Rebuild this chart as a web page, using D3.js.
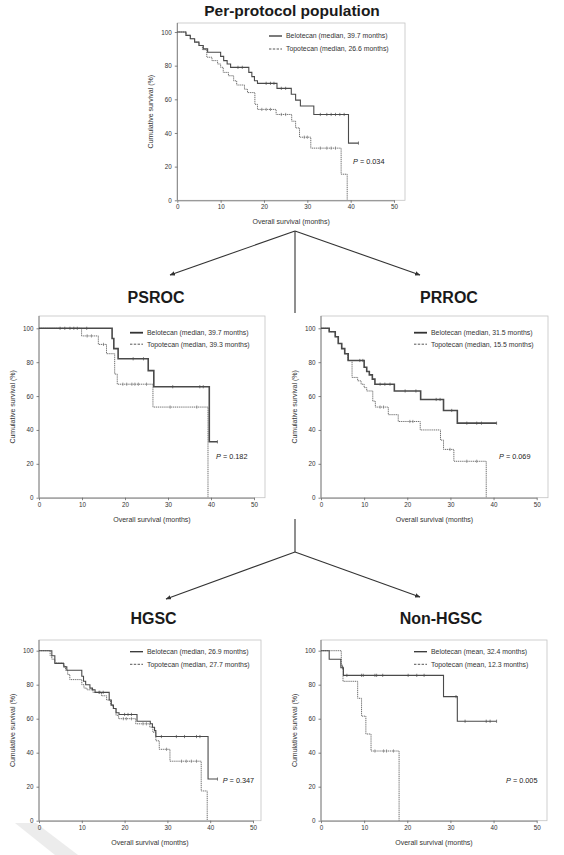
<!DOCTYPE html>
<html>
<head>
<meta charset="utf-8">
<script src="https://cdn.jsdelivr.net/npm/d3@7"></script>
<style>
  body { margin: 0; background: #fff; }
  svg text { font-family: "Liberation Sans", Arial, sans-serif; }
</style>
</head>
<body>
<div id="chart"></div>
<script>
// ---- data (months / % survival) ----
const xTicks = [0, 10, 20, 30, 40, 50];
const yTicks = [0, 20, 40, 60, 80, 100];

// Per-protocol population
const ppBelTimes = [2, 3, 4, 5, 6, 7, 10, 10.7, 11.5, 12.3, 16.5, 17.2, 17.8, 18.5, 23, 26.3, 27.3, 28.4, 31.5, 39.5];
const ppBelSurv  = [98, 96, 94, 92, 90, 88, 85.5, 83, 81, 79, 76, 73.5, 71, 69.5, 66.5, 63, 59.5, 56, 51, 34];
const ppBelEnd = 41.8;
const ppBelCensor = [14, 15, 20.5, 21.5, 22.3, 24, 25, 33, 34.5, 35.5, 36.5, 37.5, 38.5, 41.8];
const ppTopTimes = [2, 3, 4, 5, 5.8, 6.8, 8, 9.3, 10, 10.6, 11.8, 13, 13.7, 15.5, 16.2, 17.9, 18.5, 22.8, 26.4, 27.3, 28.2, 30.8, 37.8, 39.2];
const ppTopSurv  = [98, 96, 94, 92, 89.5, 85, 83, 81, 79, 76, 74, 71, 68.5, 66, 64, 57, 54, 51, 47, 43, 37.5, 31, 15.5, 0];
const ppTopCensor = [19.5, 20.5, 21.5, 24, 25, 29.3, 30, 33, 34.5, 35.5, 36.5];

// PSROC
const psBelTimes = [17, 17.4, 18.4, 25.4, 26.7, 39.6];
const psBelSurv  = [94, 88, 82, 75, 65.5, 33];
const psBelEnd = 41.5;
const psBelCensor = [4.9, 6, 7.2, 8.1, 8.9, 11.1, 21.9, 24.3, 31.1, 37.4, 38.2, 41.5];
const psTopTimes = [9.9, 13.8, 15.7, 17.6, 18.2, 26.5, 39.3];
const psTopSurv  = [95.5, 90.5, 85, 73, 67, 53.5, 0];
const psTopCensor = [11.2, 12.2, 15, 19.5, 20.4, 21.6, 22.3, 23.1, 25, 30.5, 36.7];

// PRROC
const prBelTimes = [1.9, 3.3, 4, 4.8, 5.5, 6.3, 10, 10.6, 11.2, 11.9, 12.5, 17, 23.1, 28.4, 31.6];
const prBelSurv  = [98, 95, 91, 88, 85, 81, 77, 74.5, 72.5, 70, 67, 63, 58, 51.5, 44];
const prBelEnd = 40.7;
const prBelCensor = [9, 9.7, 13.7, 14.8, 16, 19.5, 22, 26.7, 27.6, 30.3, 33.8, 36.1, 37.2, 40.7];
const prTopTimes = [1.9, 3.3, 4, 4.8, 5.5, 6.2, 7.2, 8.5, 9.3, 10, 10.6, 12, 12.6, 15.6, 17.9, 23, 27.7, 28.4, 30.8, 38.3];
const prTopSurv  = [98, 95, 91, 88, 85, 81, 71, 69, 67, 65, 63, 57, 53.5, 49, 45, 40, 34, 28.5, 21.5, 0];
const prTopCensor = [13.7, 14.5, 20.6, 21.3, 29.9, 33.8, 36.1];

// HGSC
const hgBelTimes = [3, 3.7, 5.8, 6.5, 10, 10.4, 10.9, 11.9, 12.5, 13.1, 16.4, 16.9, 17.4, 18, 18.7, 22.9, 26, 26.5, 27, 27.3, 39.5];
const hgBelSurv  = [97, 92.5, 90.5, 88.5, 85, 82, 80, 78, 77, 75.5, 71, 68, 66, 63.5, 62.5, 58.5, 57, 55, 53, 49.5, 24.5];
const hgBelEnd = 41.7;
const hgBelCensor = [14.2, 15, 20, 20.8, 21.6, 28.6, 32.1, 34, 36.8, 37.6, 41.7];
const hgTopTimes = [2.6, 3, 3.7, 5.7, 6.2, 6.7, 7.2, 10, 10.5, 11.2, 12.6, 14.6, 15.8, 16.7, 17.3, 18, 18.6, 22.6, 25.9, 26.6, 27.3, 28.1, 30.6, 37.9, 39.3];
const hgTopSurv  = [97, 95, 93, 91, 88.5, 86, 83, 80, 78, 77, 75.5, 73.5, 71, 68, 66, 62, 60, 57, 55, 52, 47, 42, 35, 17.5, 0];
const hgTopCensor = [14, 19.7, 20.4, 21.6, 24.3, 25.1, 29.8, 33.3, 34.4, 35.6, 36.8];

// Non-HGSC
const nhBelTimes = [1.9, 4.6, 5.2, 28.4, 31.6];
const nhBelSurv  = [95, 90, 85.5, 73, 58.5];
const nhBelEnd = 40.7;
const nhBelCensor = [5, 6, 9.4, 9.8, 12.5, 12.9, 14.3, 20.2, 22.2, 23.9, 31.3, 33.4, 38.3, 39.2, 40.7];
const nhTopTimes = [4.7, 5.1, 8.5, 9.4, 10.4, 11.6, 18.1];
const nhTopSurv  = [91, 82, 72, 61.5, 51, 41, 0];
const nhTopCensor = [4.9, 12.5, 14.5, 15.2, 16.8];

const panels = [
  { title: "Per-protocol population", titleX: 292, titleY: 16, titleSize: 15.5,
    x0: 177.3, x50: 394, y100: 32, y0: 200.3, frameRight: 405, frameTop: 23,
    legX: 269, legY: 36, legGap: 13, thick: 1.1,
    belLabel: "Belotecan (median, 39.7 months)", topLabel: "Topotecan (median, 26.6 months)",
    p: "0.034", pX: 353, pY: 164,
    bel: [ppBelTimes, ppBelSurv, ppBelEnd, ppBelCensor], topo: [ppTopTimes, ppTopSurv, ppTopCensor] },
  { title: "PSROC", titleX: 156, titleY: 302.5, titleSize: 16,
    x0: 39, x50: 254, y100: 328.3, y0: 497.7, frameRight: 265, frameTop: 316,
    legX: 130, legY: 332.7, legGap: 11.5, thick: 1.6,
    belLabel: "Belotecan (median, 39.7 months)", topLabel: "Topotecan (median, 39.3 months)",
    p: "0.182", pX: 216, pY: 459,
    bel: [psBelTimes, psBelSurv, psBelEnd, psBelCensor], topo: [psTopTimes, psTopSurv, psTopCensor] },
  { title: "PRROC", titleX: 449, titleY: 302.5, titleSize: 16,
    x0: 321, x50: 536.7, y100: 328.3, y0: 497.7, frameRight: 548, frameTop: 316,
    legX: 414, legY: 332.7, legGap: 11.5, thick: 1.6,
    belLabel: "Belotecan (median, 31.5 months)", topLabel: "Topotecan (median, 15.5 months)",
    p: "0.069", pX: 499, pY: 459,
    bel: [prBelTimes, prBelSurv, prBelEnd, prBelCensor], topo: [prTopTimes, prTopSurv, prTopCensor] },
  { title: "HGSC", titleX: 153.5, titleY: 623.5, titleSize: 16,
    x0: 39, x50: 253, y100: 650.7, y0: 820.7, frameRight: 261, frameTop: 640,
    legX: 130, legY: 651.7, legGap: 12.6, thick: 1.1,
    belLabel: "Belotecan (median, 26.9 months)", topLabel: "Topotecan (median, 27.7 months)",
    p: "0.347", pX: 222.7, pY: 783,
    bel: [hgBelTimes, hgBelSurv, hgBelEnd, hgBelCensor], topo: [hgTopTimes, hgTopSurv, hgTopCensor] },
  { title: "Non-HGSC", titleX: 441, titleY: 623.5, titleSize: 16,
    x0: 321, x50: 536.7, y100: 650.7, y0: 820.7, frameRight: 547, frameTop: 640,
    legX: 414, legY: 651.7, legGap: 12.6, thick: 1.1,
    belLabel: "Belotecan (mean, 32.4 months)", topLabel: "Topotecan (mean, 12.3 months)",
    p: "0.005", pX: 506, pY: 783,
    bel: [nhBelTimes, nhBelSurv, nhBelEnd, nhBelCensor], topo: [nhTopTimes, nhTopSurv, nhTopCensor] }
];

const svg = d3.select("#chart").append("svg")
  .attr("width", 564)
  .attr("height", 855);

svg.append("rect").attr("width", 564).attr("height", 855).attr("fill", "#fff");

// faint watermark chevron, bottom left
svg.append("polygon")
  .attr("points", "15,823 36,823 78,855 55,855")
  .attr("fill", "#ececec");

// connecting arrows
const defs = svg.append("defs");
defs.append("marker")
  .attr("id", "head")
  .attr("viewBox", "0 0 10 10")
  .attr("refX", 9).attr("refY", 5)
  .attr("markerWidth", 5).attr("markerHeight", 5)
  .attr("orient", "auto")
  .append("path").attr("d", "M0,1 L10,5 L0,9 Z").attr("fill", "#333");

const arrows = svg.append("g").attr("stroke", "#333").attr("stroke-width", 1.1);
arrows.append("line").attr("x1", 295).attr("y1", 231).attr("x2", 295).attr("y2", 313);
arrows.append("line").attr("x1", 295).attr("y1", 231).attr("x2", 170).attr("y2", 275).attr("marker-end", "url(#head)");
arrows.append("line").attr("x1", 295).attr("y1", 231).attr("x2", 420).attr("y2", 275).attr("marker-end", "url(#head)");
arrows.append("line").attr("x1", 295).attr("y1", 519).attr("x2", 295).attr("y2", 552);
arrows.append("line").attr("x1", 295).attr("y1", 552).attr("x2", 166).attr("y2", 599).attr("marker-end", "url(#head)");
arrows.append("line").attr("x1", 295).attr("y1", 552).attr("x2", 420).attr("y2", 597).attr("marker-end", "url(#head)");

// survival value at time t from a step curve
function survAt(times, surv, t) {
  let s = 100;
  times.forEach((tt, i) => { if (tt <= t) s = surv[i]; });
  return s;
}

panels.forEach(p => {
  const g = svg.append("g");

  const x = d3.scaleLinear().domain([0, 50]).range([p.x0, p.x50]);
  const y = d3.scaleLinear().domain([0, 100]).range([p.y0, p.y100]);

  svg.append("text")
    .attr("x", p.titleX).attr("y", p.titleY)
    .attr("text-anchor", "middle")
    .attr("font-weight", "bold")
    .attr("font-size", p.titleSize)
    .attr("fill", "#1a1a1a")
    .text(p.title);

  // frame
  g.append("rect")
    .attr("x", p.x0).attr("y", p.frameTop)
    .attr("width", p.frameRight - p.x0).attr("height", p.y0 - p.frameTop)
    .attr("fill", "#fff")
    .attr("stroke", "#c4c4c4").attr("stroke-width", 0.8);

  const xAxis = g.append("g")
    .attr("transform", `translate(0,${p.y0})`)
    .call(d3.axisBottom(x).tickValues(xTicks).tickSize(2.5).tickSizeOuter(0).tickPadding(2));
  const yAxis = g.append("g")
    .attr("transform", `translate(${p.x0},0)`)
    .call(d3.axisLeft(y).tickValues(yTicks).tickSize(2.5).tickSizeOuter(0).tickPadding(3));
  [xAxis, yAxis].forEach(a => {
    a.select(".domain").attr("stroke", "#777").attr("stroke-width", 0.9);
    a.selectAll(".tick line").attr("stroke", "#666").attr("stroke-width", 0.8);
    a.selectAll("text").attr("font-size", 6.3).attr("fill", "#333")
      .attr("font-family", "'Liberation Sans', Arial, sans-serif");
  });
  yAxis.select(".domain").attr("d", `M0,${p.y0}V${p.frameTop}`);

  // axis titles
  g.append("text")
    .attr("x", (p.x0 + p.frameRight) / 2).attr("y", p.y0 + 24)
    .attr("text-anchor", "middle").attr("font-size", 7).attr("fill", "#333")
    .text("Overall survival (months)");
  g.append("text")
    .attr("transform", `translate(${p.x0 - 24},${(p.frameTop + p.y0) / 2}) rotate(-90)`)
    .attr("text-anchor", "middle").attr("font-size", 7).attr("fill", "#333")
    .text("Cumulative survival (%)");

  const line = d3.line().x(d => x(d[0])).y(d => y(d[1])).curve(d3.curveStepAfter);

  // topotecan (dotted)
  const [tT, tS, tC] = p.topo;
  const topPts = [[0, 100]].concat(tT.map((t, i) => [t, tS[i]]));
  g.append("path").datum(topPts)
    .attr("d", line)
    .attr("fill", "none").attr("stroke", "#707070")
    .attr("stroke-width", 1).attr("stroke-dasharray", "1.2,0.7");
  g.append("g").selectAll("line").data(tC).join("line")
    .attr("x1", d => x(d)).attr("x2", d => x(d))
    .attr("y1", d => y(survAt(tT, tS, d)) - 1.6)
    .attr("y2", d => y(survAt(tT, tS, d)) + 1.6)
    .attr("stroke", "#707070").attr("stroke-width", 0.7);

  // belotecan (solid)
  const [bT, bS, bEnd, bC] = p.bel;
  const belPts = [[0, 100]].concat(bT.map((t, i) => [t, bS[i]]), [[bEnd, bS[bS.length - 1]]]);
  g.append("path").datum(belPts)
    .attr("d", line)
    .attr("fill", "none").attr("stroke", "#4a4a4a")
    .attr("stroke-width", p.thick);
  g.append("g").selectAll("line").data(bC).join("line")
    .attr("x1", d => x(d)).attr("x2", d => x(d))
    .attr("y1", d => y(survAt(bT, bS, d)) - 1.6)
    .attr("y2", d => y(survAt(bT, bS, d)) + 1.6)
    .attr("stroke", "#4a4a4a").attr("stroke-width", 0.7);

  // legend
  const leg = g.append("g");
  leg.append("line")
    .attr("x1", p.legX).attr("x2", p.legX + 13)
    .attr("y1", p.legY).attr("y2", p.legY)
    .attr("stroke", "#333").attr("stroke-width", p.thick + 0.2);
  leg.append("line")
    .attr("x1", p.legX).attr("x2", p.legX + 13)
    .attr("y1", p.legY + p.legGap).attr("y2", p.legY + p.legGap)
    .attr("stroke", "#444").attr("stroke-width", 0.9).attr("stroke-dasharray", "2.4,1.4");
  leg.append("text")
    .attr("x", p.legX + 17).attr("y", p.legY + 2.3)
    .attr("font-size", 6.9).attr("fill", "#333")
    .text(p.belLabel);
  leg.append("text")
    .attr("x", p.legX + 17).attr("y", p.legY + p.legGap + 2.3)
    .attr("font-size", 6.9).attr("fill", "#333")
    .text(p.topLabel);

  // p value
  const pt = g.append("text")
    .attr("x", p.pX).attr("y", p.pY)
    .attr("font-size", 7.3).attr("fill", "#222");
  pt.append("tspan").attr("font-style", "italic").text("P");
  pt.append("tspan").text(" = " + p.p);
});
</script>
</body>
</html>
